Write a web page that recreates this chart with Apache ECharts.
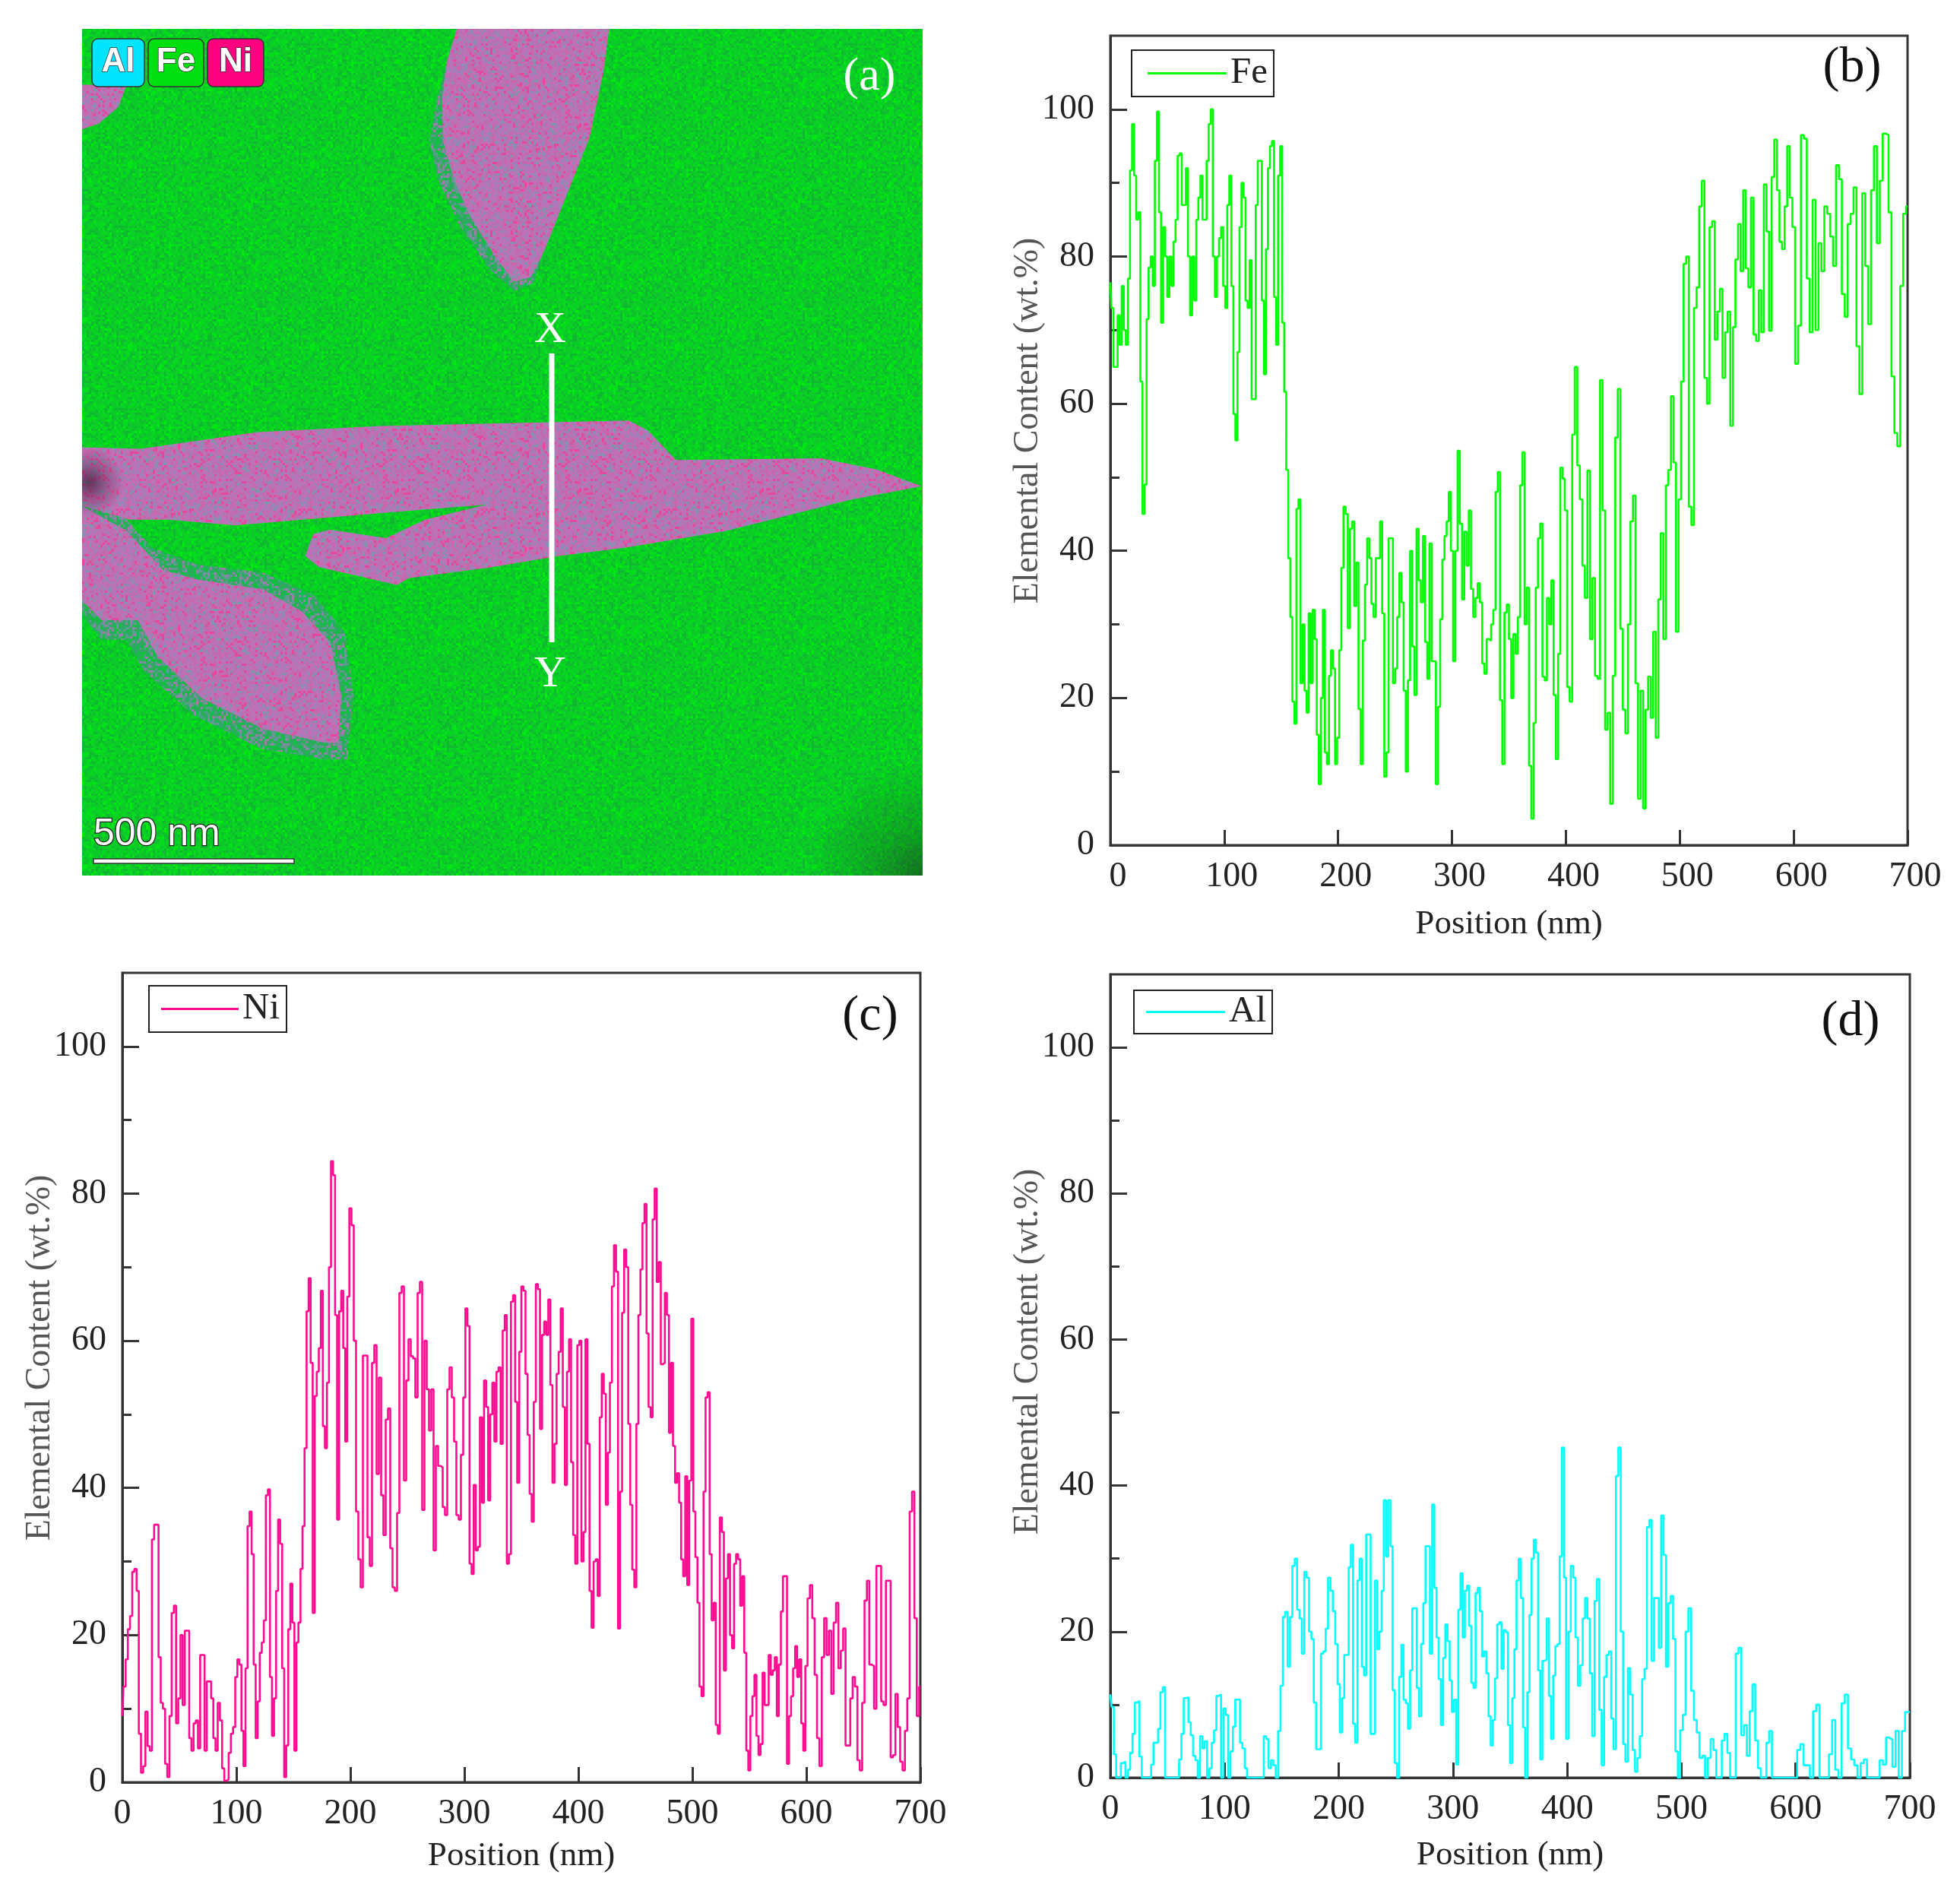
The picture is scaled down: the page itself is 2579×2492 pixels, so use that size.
<!DOCTYPE html>
<html><head><meta charset="utf-8">
<style>html,body{margin:0;padding:0;background:#fff}#c{width:2579px;height:2492px}</style>
<script src="https://cdn.jsdelivr.net/npm/echarts@6/dist/echarts.min.js"></script>
</head><body><div id="c"></div>
<script>
const chunkStarts=[0,100,200,300,400,500,600];
const xTicks=[0,100,200,300,400,500,600,700];
const yMajorTicks=[0,20,40,60,80,100];
const yMinorTicks=[10,30,50,70,90];
const feValues=[
[76.5,73,65,65,72,68,76,70,68,77,91.7,98,91,85,86,63,45,49,71.5,78.5,80,76,93,99.7,86,71,84,80,74.5,80,76,82,85,93.7,94,87,87,92,80,72,80,74,85,88,91,85,85,93,98,100,80,74.5,80,82.5,84],
[76,73,87,91,76,58.6,55,67,84,90,88,74,73,79.5,60.6,60.6,87,93,93,74,64,81,92,95,95.7,74.5,68,91,95,71,61.6,51,39,31,19.5,16.5,45.7,47,22,30,21,18,31.5,22,32,28,15,8.3,20,32,12.6,11,23,26.5,24,11],
[14.6,26.5,37.7,46,45,29.5,43,44,32.5,38.4,18.5,11,27.8,35.4,41.7,39,32.8,31,39,39,44,31.5,9.3,12.6,41.7,41.7,22,24,31,37,33,21,10,22.4,40,27,20.4,43,36,33,42,27.6,22.6,41,25,25,8.3,18.8,30.7,38.8,42,44,48],
[40,25,40,53.6,43.7,33.4,42.6,38,45.5,34.8,31,33.6,35.6,33,24.7,23.3,28,27.8,30,32,48,50.7,19.7,11,31.6,32.7,28,20,28.7,26,31,48.9,53.4,30,35,10.8,3.6,16.6,35,41.7,43.7,22.9,22.4,33.6,30,36,20.4,11.7,26,51.3,49.8],
[45.5,21.5,19.5,55.8,65,51.6,47,38,33.6,50.9,28,36.3,23,22.6,63.2,45.5,15.7,18,5.6,23,55.4,62,29.4,18.4,15.2,30,44,47.5,22,6.3,21,5,18.4,22.9,17.3,29,14.6,33.4,42.4,28,48.9,51,61,52,29],
[47,63,79,80,46,43.5,73,75.8,86.8,90.3,63.5,60,84,84.8,68.7,72.5,75.6,63.5,69.7,72.5,57,70.4,79.6,84.4,78,89,78.4,75.8,88,69.4,68.5,75.4,69.7,89.8,83.4,69.9,90.8,95.9,89,82,81,86.8,95,88],
[84,65.4,70.6,96.5,96,77,69.7,87.7,70,81.8,78,86.8,85.8,82.7,78.7,92.4,90.5,74.9,71.8,84.4,85.8,89.4,67.8,61.3,88.6,78.7,70.8,89,95,81.8,90.3,96.7,96.5,86,63.7,56,54.2,76,85.8,86.8]];
const niValues=[
[9,13,16.7,20.8,22.6,28.6,29,26,6.6,1.3,2.2,9.6,4.9,4.3,33,35,35,17,10.8,10,2.5,0.7,9,23,24,8,11.4,20,10.5,20.6,20.6,6,4.3,8,8.4,4.6,17.3,17.3,4.3,13.7,13.7,11.4,6,4.3,10.8,8.4,1.9,0.2,0.4,4,6.6,7.5],
[14.3,16.7,16,7,2.2,15.5,34.8,36.8,31,16,6,11,17.6,19,22,39,39.8,14.3,6.3,11.4,26,35.7,32.4,15.5,0.7,5,20.8,27,21.7,4.3,19,21.7,29,34.8,45.4,64,68.5,57,23,52.5,55.8,59,66.8,48.4,45.4,54.3,70,84.4,82.5,63.5,35.7,64,66.8,59,46.3,66],
[78,75.7,60,36.8,30.3,26.5,58,58,33.3,29.4,57,59.4,41.9,55,39,33.6,49.3,50.8,31.8,26.5,26,36.6,66.5,67.4,41,54.6,60.2,57.9,57.6,52.3,66.5,68,37,60,53.4,47.8,53.4,31.5,45.7,43,42.8,37.4,36.3,53.4,56.4,52.3,46.3,36.3,35.7,44.5],
[52.3,64.4,62,29.7,28.3,40.4,31.5,32,49.6,38,54.6,51,38.3,50,54.3,46.3,55.8,56.4,46,61.4,63.5,29.7,31,65.3,66.2,51.7,40.7,58.5,67.4,66.8,55.5,47.2,39.2,35.4,51.7,67.7,67,48,60.8,62.6,60.8,65.6,54,40.7,46,55.5,58.5,64.4,51,40.4,55.8,60.2,43.5,33.6,29.7],
[59.4,60,30,34,60.2,46,26,21,30,30.3,25.3,49.6,55.5,52.8,37.7,44.8,54.3,67.4,73,69.4,20.9,39.5,63.8,72.4,70,48.7,37.7,28.9,26.5,48.7,63.5,69.7,76,78.6,61,51,49.6,76.5,80.7,68,70.7,56.8,57,66.5,63.5,47.5,57,45.7,40.7,42,38,30.3,28,41.6,26.8,41],
[63,36.8,30.6,24.4,13,11.7,39.5,52.3,53,31,22,24.4,7.8,6.6,36,34,15.2,27.7,31,20,18.2,29.7,31,30.3,24,28,17.6,4.3,1.6,9,11.7,14.6,6.3,3.7,5.2,14.9,10.5,10.5,17.3,14.6,15.2,17,9,16,23.2,28,28,2.5,9,11.7,15.5,18.5,14.3,16.7,8,4.3],
[15.8,25,26.8,22.3,14.6,6,2.2,17,22.3,17.3,20.6,12,21.7,24.4,15.5,17.9,20.9,5,5,11.4,14.3,13,3,1.6,10.8,24.7,27.4,16,15.8,10,29.4,29.4,11,10.5,27.4,27.4,3.4,3.7,12,7.5,2.8,1.6,7,11.4,36.8,39.5,22.3,9,13]];
const alValues=[
[11.4,9.7,3.2,0,0,2,2.2,0,1.1,3.4,6,10.3,10.5,2.9,0,0,0,0,1.8,4.8,4.8,6.7,11.7,12.4,0,0,0,0,0,0,2.5,6,10.9,11,7.6,5.8,3,2.4,0,5.7,4,5,0,1.3,4.8,6.5,11.2,11.4,0],
[9.5,8.6,0,3.6,7,10.7,10.7,4.8,4,1.3,0,0,0,0,0,0,0,5.7,5.3,1.3,2.4,1.7,0,6.4,12.6,22,22.7,15.2,22,29,30,23,21.8,17,28.2,27.4,20,19,10.3,3.9,3.9,17,17.3,20.4,27.4,25.6,22.8,18.3],
[12.8,6.2,10.9,16.8,16.8,28.8,31.9,7.4,4.8,27,30,15.2,14,33.3,33.3,6,6,27,17.6,20,25.6,38,30.3,38,31.7,12,2,0,13.8,18.2,10.7,10.2,6.7,14.7,23.2,23.2,12.3,8.4,18.3,23.9,31.7,31.7,17,37.4,26,19.2,13.5,7.2,16.4,21,18.7,13.3],
[9,10.7,1.8,23,28,19.2,25.6,26.3,20.8,13,12.3,25.3,26,22.8,16.6,17.3,14.3,8.4,4.4,7.9,13.6,21,21.3,14.9,20.2,19.9,7.2,2,10.9,17.6,27,30,24.6,6.9,0,11.7,22.3,30,32.6,30.8,14.7,2.5,16,16.2,21.8,11.2,5.3,14,18,18.3,30.3,45.2,27.4],
[5.3,20,29,27.4,19.2,12.6,15.4,21.8,24.6,21.8,14.3,5.7,24.2,27.2,9.3,1.7,13.8,16.8,17.3,8.1,3.9,41.3,45.2,20,4.6,2.2,15,11.4,3.8,0.8,2.7,5.7,13.5,14.9,34.3,35.3,16,24.6,24.6,17.8,35.9,30.5,15.2,23.9,24.9,19,3.6,0],
[6.5,8.6,20,23.2,11.9,7.9,6.2,2.7,3,0,2.7,5.3,3.8,0,0,5.1,6,3.4,0,0,17,17.8,5.8,7.2,3,9.1,12.8,5.1,1.3,0,0,4.8,6.4,0,0,0,0,0,0,0,0],
[0,3.8,4.6,1.7,1.7,0,9.1,10,0,0,0,3.2,7.9,1.1,0,10.2,11.4,4,2.5,1.7,0,2,2.5,0,0,0,0,2.4,1.8,5.5,5.3,1.5,6.4,0,6.4,9,9]];
// Micrograph outline points, in the micrograph's own coordinates
const upperGrain=[[697,25],[970,25],[960,100],[935,220],[895,320],[855,420],[830,470],[800,478],[770,440],[720,360],[690,290],[672,225],[670,150],[680,80]];
const upperFringe=[[680,80],[662,150],[648,225],[663,295],[700,375],[755,455],[800,495],[835,480],[860,400],[800,250],[720,120]];
const cornerGrain=[[25,125],[105,125],[90,165],[55,195],[25,205]];
const centralGrain=[[25,775],[130,778],[340,748],[560,737],[1005,727],[1040,745],[1090,798],[1350,795],[1450,815],[1530,845],[1400,870],[1180,925],[1000,955],[880,970],[760,990],[610,1010],[590,1022],[530,1008],[450,990],[425,970],[440,930],[470,923],[570,938],[640,905],[750,878],[600,890],[420,905],[300,915],[180,905],[110,905],[25,880]];
const lowerGrain=[[25,880],[105,925],[170,995],[230,1012],[350,1030],[420,1070],[470,1125],[490,1220],[485,1305],[460,1305],[350,1280],[240,1225],[160,1150],[125,1085],[60,1085],[25,1050]];
const lowerFringe=[[25,850],[105,905],[150,955],[230,985],[350,1000],[440,1040],[495,1105],[512,1220],[500,1335],[460,1335],[345,1315],[225,1255],[135,1175],[105,1120],[60,1120],[25,1075]];
const imageFrame=[[25,25],[1532,25],[1532,1543],[25,1543]];
const darkLeft=[[25,720],[150,720],[150,1000],[25,1000]];
const darkCorner=[[1150,1280],[1532,1280],[1532,1543],[1150,1543]];

function noiseTile(cols,cell){
  let seed=20240611;const next=()=>{seed=(seed*1103515245+12345)&0x7fffffff;return seed/0x7fffffff;};
  const c=document.createElement('canvas');c.width=c.height=240;const g=c.getContext('2d');
  for(let y=0;y<240;y+=cell)for(let x=0;x<240;x+=cell){
    const r=next();let acc=0,col=cols[0][0];
    for(const k of cols){acc+=k[1];if(r<=acc){col=k[0];break;}}
    g.fillStyle=col;g.fillRect(x,y,cell,cell);
  }
  return c;
}
const greenTile=noiseTile([['#0ccb28',.42],['#05da1e',.3],['#10b832',.2],['#00ec10',.08]],3);
const pinkTile=noiseTile([['#b973b6',.42],['#c868ac',.24],['#9c82b6',.18],['#e4489c',.1],['#7c98ac',.06]],3);
const fringeTile=noiseTile([['#2fa864',.35],['#5f9a90',.27],['#12c040',.26],['#a07cac',.12]],3);
const pat=t=>({image:t,repeat:'repeat'});
const shapes=[
 {p:imageFrame,fill:pat(greenTile)},
 {p:upperFringe,fill:pat(fringeTile)},
 {p:lowerFringe,fill:pat(fringeTile)},
 {p:upperGrain,fill:pat(pinkTile)},
 {p:cornerGrain,fill:pat(pinkTile)},
 {p:lowerGrain,fill:pat(pinkTile)},
 {p:centralGrain,fill:pat(pinkTile)},
 {p:darkLeft,fill:{type:'radial',x:.1,y:.42,r:.5,colorStops:[{offset:0,color:'rgba(40,10,30,.6)'},{offset:.5,color:'rgba(40,10,30,.25)'},{offset:1,color:'rgba(40,10,30,0)'}]}},
 {p:darkCorner,fill:{type:'radial',x:1,y:1,r:.8,colorStops:[{offset:0,color:'rgba(30,30,30,.55)'},{offset:.4,color:'rgba(30,40,30,.25)'},{offset:1,color:'rgba(30,40,30,0)'}]}}
];

function toPoints(chunks){
  const out=[];
  chunks.forEach((vals,k)=>{
    const last=k===chunks.length-1;
    const step=100/(last?vals.length-1:vals.length);
    vals.forEach((v,i)=>out.push([chunkStarts[k]+i*step,v]));
  });
  return out;
}
const serif='"Liberation Serif","Times New Roman",serif';
const sans='"Liberation Sans",Arial,sans-serif';
const axisCol='#333';
const grids=[
 {left:108,top:38,width:1106,height:1114},
 {left:1461,top:47,width:1049,height:1065},
 {left:161,top:1280,width:1050,height:1065},
 {left:1461,top:1282,width:1052,height:1057}
];
const panels=[
 {name:'Fe',color:'#00ff00',vals:feValues,labelShift:20,xGap:82,yPad:52},
 {name:'Ni',color:'#ff0a90',vals:niValues,labelShift:0,xGap:75,yPad:52},
 {name:'Al',color:'#00ffff',vals:alValues,labelShift:0,xGap:80,yPad:64}
];
const xAxes=[{gridIndex:0,type:'value',min:25,max:1532,show:false}];
const yAxes=[{gridIndex:0,type:'value',min:25,max:1543,inverse:true,show:false}];
panels.forEach((p,i)=>{
  xAxes.push({gridIndex:i+1,type:'value',min:0,max:700,interval:100,position:'bottom',
    name:'Position (nm)',nameLocation:'middle',nameGap:p.xGap,
    nameTextStyle:{fontFamily:serif,fontSize:45,color:'#222'},
    axisLine:{lineStyle:{color:axisCol,width:3}},
    axisTick:{inside:true,length:20,lineStyle:{color:axisCol,width:3},customValues:xTicks},
    axisLabel:{fontFamily:serif,fontSize:46,color:'#222',margin:19,padding:[0,0,0,p.labelShift],customValues:xTicks},
    splitLine:{show:false}});
});
panels.forEach((p,i)=>{
  yAxes.push({gridIndex:i+1,type:'value',min:0,max:110,position:'left',
    name:'Elemental Content (wt.%)',nameLocation:'middle',nameRotate:90,nameGap:85,nameMoveOverlap:false,
    nameTextStyle:{fontFamily:serif,fontSize:46,color:'#555',padding:[0,0,0,p.yPad]},
    axisLine:{lineStyle:{color:axisCol,width:3}},
    axisTick:{inside:true,length:22,lineStyle:{color:axisCol,width:3},customValues:yMajorTicks},
    axisLabel:{fontFamily:serif,fontSize:46,color:'#222',margin:21,customValues:yMajorTicks},
    splitLine:{show:false}});
});
panels.forEach((p,i)=>{
  yAxes.push({gridIndex:i+1,type:'value',min:0,max:110,position:'left',
    axisLine:{show:false},
    axisTick:{inside:true,length:12,lineStyle:{color:axisCol,width:3},customValues:yMinorTicks},
    axisLabel:{show:false},splitLine:{show:false}});
});
const series=[{
  type:'custom',name:'micrograph',xAxisIndex:0,yAxisIndex:0,clip:true,silent:true,
  data:shapes.map((s,i)=>i),
  renderItem(params,api){
    const s=shapes[params.dataIndex];
    return {type:'polygon',shape:{points:s.p.map(q=>api.coord(q))},style:{fill:s.fill}};
  }
}];
panels.forEach((p,i)=>{
  series.push({type:'line',name:p.name,xAxisIndex:i+1,yAxisIndex:i+1,step:'middle',symbol:'none',showSymbol:false,
    data:toPoints(p.vals),lineStyle:{color:p.color,width:2.6},itemStyle:{color:p.color},clip:true});
});
const legendBoxes=[{left:1489,top:66,w:104,pad:[6,8,6,21]},{left:196,top:1297,w:102,pad:[6,9,6,16]},{left:1492,top:1303,w:104,pad:[4,8,4,16]}];
const legends=panels.map((p,i)=>({data:[{name:p.name,icon:'rect'}],left:legendBoxes[i].left,top:legendBoxes[i].top,orient:'horizontal',
  itemWidth:legendBoxes[i].w,itemHeight:3,padding:legendBoxes[i].pad,backgroundColor:'#fff',borderColor:'#222',borderWidth:2,
  selectedMode:false,textStyle:{fontFamily:serif,fontSize:49,color:'#222'}}));
const T=(text,x,y,size,fill)=>({type:'text',z:200,x,y,style:{text,fill,font:size+'px '+serif,align:'center',verticalAlign:'middle'}});
const badge=(x,w,col,label)=>({type:'group',z:200,children:[
  {type:'rect',z:200,shape:{x,y:51,width:w,height:63,r:8},style:{fill:col,stroke:'#333',lineWidth:1.5}},
  {type:'text',z:201,x:x+w/2,y:82,style:{text:label,fill:'#fff',font:'bold 44px '+sans,align:'center',verticalAlign:'middle',stroke:'#333',lineWidth:1.5}}]});
const graphic=[
  {type:'rect',z:200,shape:{x:722.5,y:465,width:7,height:380},style:{fill:'#fff'}},
  T('X',724,435,58,'#fff'),T('Y',724,888,58,'#fff'),
  T('(a)',1144,102,62,'#fff'),
  T('(b)',2437,90,66,'#111'),T('(c)',1145,1338,66,'#111'),T('(d)',2435,1345,66,'#111'),
  badge(121,69,'#00e4ff','Al'),badge(195,73,'#00e010','Fe'),badge(273,74,'#ff0080','Ni'),
  {type:'rect',z:200,shape:{x:123,y:1130,width:264,height:6},style:{fill:'#fff',stroke:'#333',lineWidth:1.5}},
  {type:'text',z:200,x:123,y:1098,style:{text:'500 nm',fill:'#fff',font:'50px '+sans,align:'left',verticalAlign:'middle',stroke:'#222',lineWidth:2.5}}
];
const chart=echarts.init(document.getElementById('c'),null,{renderer:'canvas',width:2579,height:2492});
chart.setOption({animation:false,backgroundColor:'#fff',
  grid:grids.map((g,i)=>Object.assign({show:i>0,borderColor:axisCol,borderWidth:3,backgroundColor:'transparent',containLabel:false},g)),
  xAxis:xAxes,yAxis:yAxes,legend:legends,series,graphic:{elements:graphic}});
</script></body></html>
